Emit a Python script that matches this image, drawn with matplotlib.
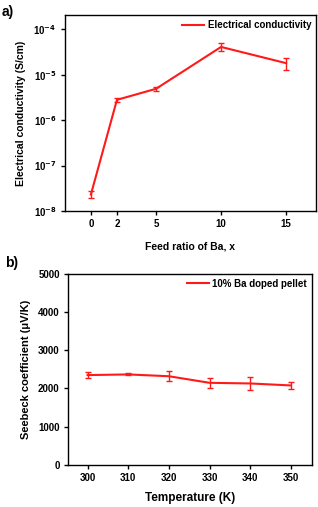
import math
import matplotlib
matplotlib.use("Agg")
import matplotlib.pyplot as plt
from matplotlib.lines import Line2D
from matplotlib.ticker import FixedLocator, FuncFormatter, NullLocator

# panel a: conductivity vs feed ratio
feed_ratio = [0, 2, 5, 10, 15]
sigma = [2.3e-8, 2.8e-6, 4.9e-6, 4.1e-5, 1.8e-5]
sigma_err = [0.4e-8, 0.3e-6, 0.5e-6, 0.8e-5, 0.55e-5]

# panel b: seebeck vs temperature
temperature = [300, 310, 320, 330, 340, 350]
seebeck = [2350, 2367, 2320, 2148, 2131, 2079]
seebeck_err = [85, 25, 125, 135, 160, 95]

plt.rcParams['font.family'] = ['Liberation Sans', 'DejaVu Sans']
plt.rcParams['font.weight'] = 'bold'
plt.rcParams['axes.labelweight'] = 'bold'
plt.rcParams['mathtext.default'] = 'bf'
plt.rcParams['axes.linewidth'] = 1.0

fig = plt.figure(figsize=(3.18, 5.07), dpi=100)
ax1 = fig.add_axes([0.204, 0.584, 0.790, 0.386])
ax2 = fig.add_axes([0.214, 0.083, 0.767, 0.377])

red = '#ff1a1a'

# --- a ---
ax1.errorbar(feed_ratio, sigma, yerr=sigma_err, color=red, lw=1.5,
             elinewidth=1.0, capsize=2.0, capthick=1.0)
ax1.set_yscale('log')
ax1.set_ylim(1e-8, 2.05e-4)
ax1.set_xlim(-2, 17.3)
ax1.set_xticks(feed_ratio)
ax1.yaxis.set_major_locator(FixedLocator([1e-8, 1e-7, 1e-6, 1e-5, 1e-4]))
ax1.yaxis.set_minor_locator(NullLocator())
ax1.yaxis.set_major_formatter(FuncFormatter(lambda v, p: "10$^{%d}$" % round(math.log10(v))))
ax1.set_xlabel('Feed ratio of Ba, x', fontsize=7.5, labelpad=9)
ax1.set_ylabel('Electrical conductivity (S/cm)', fontsize=7.5, labelpad=5)
ax1.legend([Line2D([], [], color=red, lw=1.5)], ['Electrical conductivity'],
           loc='upper right', frameon=False, fontsize=7, handlelength=2.2,
           borderaxespad=0.1, handletextpad=0.4)
fig.text(0.005, 0.99, 'a)', fontsize=10, fontweight='bold', va='top')

# --- b ---
ax2.errorbar(temperature, seebeck, yerr=seebeck_err, color=red, lw=1.5,
             elinewidth=1.0, capsize=2.0, capthick=1.0)
ax2.set_xlim(295.2, 355.2)
ax2.set_ylim(0, 5000)
ax2.set_xticks(temperature)
ax2.set_yticks([0, 1000, 2000, 3000, 4000, 5000])
ax2.set_xlabel('Temperature (K)', fontsize=8.5, labelpad=6)
ax2.set_ylabel('Seebeck coefficient (\u03bcV/K)', fontsize=8, labelpad=5)
ax2.legend([Line2D([], [], color=red, lw=1.5)], ['10% Ba doped pellet'],
           loc='upper right', frameon=False, fontsize=7, handlelength=2.2,
           borderaxespad=0.1, handletextpad=0.4)
fig.text(0.015, 0.495, 'b)', fontsize=10, fontweight='bold', va='top')

for ax in (ax1, ax2):
    ax.tick_params(direction='out', length=3, width=1, labelsize=7, pad=3)
    for lab in ax.get_xticklabels() + ax.get_yticklabels():
        lab.set_fontweight('bold')

fig.savefig('out.png', dpi=100)
